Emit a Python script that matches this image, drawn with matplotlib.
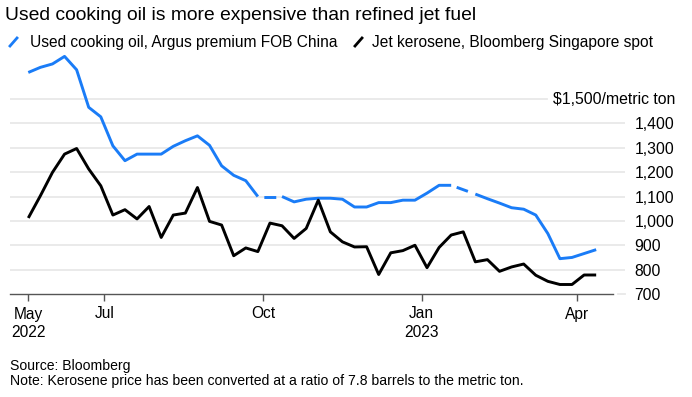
import matplotlib
matplotlib.use('Agg')
import matplotlib.pyplot as plt
import matplotlib.dates as mdates
from matplotlib.lines import Line2D
import numpy as np
import pandas as pd

plt.rcParams['font.family'] = ['Liberation Sans', 'DejaVu Sans']
plt.rcParams['lines.scale_dashes'] = False

# ---- data (weekly) ----
start_date = '2022-05-18'
n_weeks = 48
uco = [1609, 1630, 1644, 1675, 1620, 1466, 1427, 1308, 1247, 1274,
       1274, 1274, 1306, 1329, 1349, 1310, 1226, 1187, 1165, 1100,
       np.nan, 1100, 1078, 1089, 1093, 1093, 1089, 1057, 1057, 1075,
       1075, 1085, 1085, 1114, 1146, 1146, np.nan, 1110, 1091, 1073,
       1054, 1048, 1024, 948, 845, 850, 866, 882]
jet = [1012, 1103, 1199, 1274, 1297, 1213, 1144, 1024, 1046, 1008,
       1059, 932, 1024, 1032, 1137, 998, 983, 857, 889, 874,
       991, 980, 928, 969, 1085, 955, 914, 893, 894, 780,
       869, 878, 900, 808, 891, 942, 955, 832, 841, 793,
       811, 823, 777, 752, 739, 739, 778, 778]
xtick_dates = ['2022-05-18', '2022-07-01', '2022-10-01', '2023-01-01', '2023-04-01']
xtick_labels = ['May\n2022', 'Jul', 'Oct', 'Jan\n2023', 'Apr']
ytick_vals = [700, 800, 900, 1000, 1100, 1200, 1300, 1400]
ytick_labels = ['700', '800', '900', '1,000', '1,100', '1,200', '1,300', '1,400']
top_label_val = 1500
top_label = '$1,500/metric ton'
series_names = ['Used cooking oil, Argus premium FOB China',
                'Jet kerosene, Bloomberg Singapore spot']
title = 'Used cooking oil is more expensive than refined jet fuel'
source = 'Source: Bloomberg'
note = 'Note: Kerosene price has been converted at a ratio of 7.8 barrels to the metric ton.'

BLUE = '#1a7cf7'
BLACK = '#000000'
GRID = '#e8e8e8'

dates = pd.date_range(start_date, periods=n_weeks, freq='7D')
x = mdates.date2num(dates.to_pydatetime())
uco = np.array(uco, dtype=float)
jet = np.array(jet, dtype=float)

W, H = 692, 397
fig = plt.figure(figsize=(W / 100, H / 100), dpi=100)
ax_l, ax_r, ax_t, ax_b = 10, 625, 50.3, 294
ax = fig.add_axes([ax_l / W, 1 - ax_b / H, (ax_r - ax_l) / W, (ax_b - ax_t) / H])

x0 = x[0]
ax.set_xlim(x0 - 10.6, x0 + 345.7)
ax.set_ylim(700, 1700)

# grid
for v in ytick_vals[1:]:
    ax.axhline(v, color=GRID, lw=1.3, zorder=0)
ax.plot([0, (547 - ax_l) / (ax_r - ax_l)], [top_label_val] * 2, color=GRID, lw=1.3,
        transform=ax.get_yaxis_transform(), zorder=0)
# short grid stub at 700 beyond the axis line
ax.plot([(618 - ax_l) / (ax_r - ax_l), 1], [700, 700], color=GRID, lw=1.3,
        transform=ax.get_yaxis_transform(), zorder=0, clip_on=False)
# baseline
ax.plot([0, (613 - ax_l) / (ax_r - ax_l)], [700, 700], color='#555555', lw=1.0,
        transform=ax.get_yaxis_transform(), zorder=1, clip_on=False)

for s in ax.spines.values():
    s.set_visible(False)

def draw_series(vals, color):
    ax.plot(x, vals, color=color, lw=2.1, solid_joinstyle='round', solid_capstyle='butt',
            zorder=3, clip_on=False)
    for i in np.where(np.isnan(vals))[0]:
        if 0 < i < len(vals) - 1:
            ax.plot([x[i - 1], x[i + 1]], [vals[i - 1], vals[i + 1]], color=color, lw=2.1,
                    linestyle=(13.0, (8.6, 8.6)), dash_capstyle='butt', zorder=3)

draw_series(uco, BLUE)
draw_series(jet, BLACK)

# x ticks
ax.set_xticks(mdates.date2num(pd.to_datetime(xtick_dates).to_pydatetime()))
ax.set_xticklabels(xtick_labels, fontsize=11.2, linespacing=1.3)
ax.tick_params(axis='x', length=5, width=1, color='#555555', pad=4)

# y ticks on right
ax.yaxis.tick_right()
ax.set_yticks(ytick_vals)
ax.set_yticklabels(ytick_labels, fontsize=11.3)
ax.tick_params(axis='y', length=0, pad=7)
ax.text((553 - ax_l) / (ax_r - ax_l), top_label_val, top_label, fontsize=11.4,
        ha='left', va='center', transform=ax.get_yaxis_transform())

# title and legend
fig.text(5 / W, 1 - 15 / H, title, fontsize=13.9, ha='left', va='center')
leg_y = 42
for (x1, x2), col, name, tx in [((10, 17), BLUE, series_names[0], 30),
                                ((355, 362), BLACK, series_names[1], 372)]:
    fig.add_artist(Line2D([x1 / W, x2 / W], [1 - (leg_y + 4) / H, 1 - (leg_y - 4) / H],
                          color=col, lw=2.0))
    fig.text(tx / W, 1 - leg_y / H, name, fontsize=11.2, ha='left', va='center')

fig.text(10 / W, 1 - 366 / H, source, fontsize=10.1, ha='left', va='center')
fig.text(10 / W, 1 - 381 / H, note, fontsize=10.1, ha='left', va='center')

fig.savefig('out.png', dpi=100)
